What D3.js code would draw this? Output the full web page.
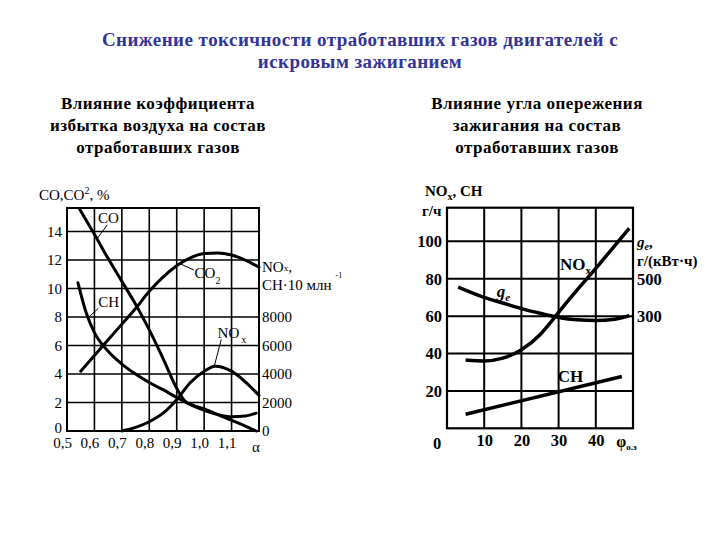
<!DOCTYPE html>
<html><head><meta charset="utf-8">
<script src="https://cdn.jsdelivr.net/npm/d3@7"></script>
<style>body{margin:0;background:#fff}</style>
</head><body><svg id="c" width="720" height="540"></svg>
<script>
// ---------- texts ----------
const titleLines = ["Снижение токсичности отработавших газов двигателей с", "искровым зажиганием"];
const leftSubtitle = ["Влияние коэффициента", "избытка воздуха на состав", "отработавших газов"];
const rightSubtitle = ["Влияние угла опережения", "зажигания на состав", "отработавших газов"];

// ---------- left chart data ----------
const alphaTicks = [0.5, 0.6, 0.7, 0.8, 0.9, 1.0, 1.1];
const alphaTickLabels = ["0,5", "0,6", "0,7", "0,8", "0,9", "1,0", "1,1"];
const alphaGrid = [0.6, 0.7, 0.8, 0.9, 1.0, 1.1];
const pctTicks = [0, 2, 4, 6, 8, 10, 12, 14];
const ppmTicks = [0, 2000, 4000, 6000, 8000];
// CO, % ; [alpha, value]
const coData = [[0.545,15.6],[0.6,13.8],[0.65,12.1],[0.7,10.5],[0.75,8.9],[0.8,7.1],[0.85,5.1],[0.9,3.0],[0.93,2.1],[0.96,1.8],[1.0,1.55],[1.05,1.15],[1.1,0.75],[1.15,0.35],[1.19,0]];
// CO2, %
const co2Data = [[0.55,4.2],[0.6,5.3],[0.65,6.4],[0.7,7.5],[0.75,8.6],[0.8,9.8],[0.85,10.8],[0.9,11.6],[0.95,12.15],[1.0,12.45],[1.05,12.5],[1.1,12.35],[1.15,12.0],[1.2,11.5]];
// CH, млн^-1 (right axis)
const chData = [[0.54,10400],[0.57,8300],[0.6,6900],[0.65,5600],[0.7,4700],[0.75,4000],[0.8,3400],[0.85,2900],[0.9,2350],[0.95,1850],[1.0,1450],[1.05,1150],[1.1,1000],[1.15,1050],[1.19,1250]];
// NOx, млн^-1 (right axis)
const noxData = [[0.7,0],[0.75,250],[0.8,650],[0.85,1250],[0.9,2200],[0.95,3400],[1.0,4200],[1.04,4550],[1.1,4200],[1.15,3450],[1.2,2500]];

// ---------- right chart data ----------
const phiTicks = [10, 20, 30, 40];
const ghTicks = [20, 40, 60, 80, 100];
const geTicks = [300, 500];
// NOx, г/ч ; [phi, value]
const noxPhi = [[5,36.5],[10,36],[15,37.5],[20,42],[25,50],[28,57],[30,62],[35,74],[40,85.5],[45,97.5],[49,107]];
// ge, г/(кВт·ч)
const gePhi = [[3,455],[10,400],[15,370],[20,340],[25,315],[30,293],[35,280],[40,276],[45,283],[49,302]];
// CH, г/ч
const chPhi = [[5,7.5],[47,27.7]];

const svg = d3.select("#c");
const serif = "'Liberation Serif','Times New Roman',serif";

// ---------- titles ----------
svg.append("g").selectAll("text").data(titleLines).join("text")
  .attr("x", 360).attr("y", (d,i) => 46 + i*22)
  .attr("text-anchor", "middle").attr("font-family", serif).attr("font-weight", "bold")
  .attr("font-size", 19).attr("letter-spacing", 0.45).attr("fill", "#333399").text(d => d);
svg.append("g").selectAll("text").data(leftSubtitle).join("text")
  .attr("x", 158).attr("y", (d,i) => 109 + i*22)
  .attr("text-anchor", "middle").attr("font-family", serif).attr("font-weight", "bold")
  .attr("font-size", 17).attr("letter-spacing", 0.5).attr("fill", "#000").text(d => d);
svg.append("g").selectAll("text").data(rightSubtitle).join("text")
  .attr("x", 537).attr("y", (d,i) => 109 + i*22)
  .attr("text-anchor", "middle").attr("font-family", serif).attr("font-weight", "bold")
  .attr("font-size", 17).attr("letter-spacing", 0.5).attr("fill", "#000").text(d => d);

// ---------- left chart ----------
{
  const x = d3.scaleLinear().domain([0.5, 1.2]).range([67, 259]);
  const y = d3.scaleLinear().domain([0, 15.65]).range([431, 208]);
  const yr = d3.scaleLinear().domain([0, 15650]).range([431, 208]);
  const g = svg.append("g");
  // grid
  g.append("g").selectAll("line").data(pctTicks.slice(1)).join("line")
    .attr("x1", x(0.5)).attr("x2", x(1.2)).attr("y1", d => y(d)).attr("y2", d => y(d))
    .attr("stroke", "#000").attr("stroke-width", 1.6);
  g.append("g").selectAll("line").data(alphaGrid).join("line")
    .attr("y1", y(0)).attr("y2", y(15.65)).attr("x1", d => x(d)).attr("x2", d => x(d))
    .attr("stroke", "#000").attr("stroke-width", 1.6);
  g.append("rect").attr("x", x(0.5)).attr("y", y(15.65)).attr("width", x(1.2)-x(0.5)).attr("height", y(0)-y(15.65))
    .attr("fill", "none").attr("stroke", "#000").attr("stroke-width", 2);
  // axes
  const ax = d3.axisLeft(y).tickValues(pctTicks).tickSize(0).tickPadding(5);
  const ga = g.append("g").attr("transform", `translate(${x(0.5)},0)`).call(ax);
  const axr = d3.axisRight(yr).tickValues(ppmTicks).tickSize(0).tickPadding(3).tickFormat(d3.format("d"));
  const gr = g.append("g").attr("transform", `translate(${x(1.2)},0)`).call(axr);
  const axb = d3.axisBottom(x).tickValues(alphaTicks).tickSize(0).tickPadding(6)
    .tickFormat((d,i) => alphaTickLabels[i]);
  const gb = g.append("g").attr("transform", `translate(-5,${y(0)})`).call(axb);
  [ga, gr, gb].forEach(s => {
    s.select(".domain").remove();
    s.selectAll("text").attr("font-family", serif).attr("font-size", 15).attr("fill", "#000");
  });
  // lift the "0" label a little so it clears the x labels
  ga.selectAll(".tick").filter(d => d === 0).select("text").attr("dy", "0.1em");
  g.append("text").attr("x", x(1.2) - 3).attr("y", y(0) + 21).attr("font-family", serif)
    .attr("font-size", 15).attr("text-anchor", "middle").text("α");
  // axis titles
  const t1 = g.append("text").attr("x", 39).attr("y", 200).attr("font-family", serif).attr("font-size", 15);
  t1.append("tspan").text("CO,CO");
  t1.append("tspan").attr("dy", -6).attr("font-size", 10).text("2");
  t1.append("tspan").attr("dy", 6).text(", %");
  const t2 = g.append("text").attr("x", x(1.2) + 3).attr("y", 272).attr("font-family", serif).attr("font-size", 15);
  t2.append("tspan").text("NO");
  t2.append("tspan").attr("dy", -1).attr("font-size", 9).text("x");
  t2.append("tspan").attr("dy", 1).text(",");
  const t3 = g.append("text").attr("x", x(1.2) + 3).attr("y", 290).attr("font-family", serif).attr("font-size", 15);
  t3.append("tspan").text("CH·10 млн");
  t3.append("tspan").attr("dy", -12).attr("dx", 4).attr("font-size", 8).text("-1");
  // curves
  const line = d3.line().x(d => x(d[0])).y(d => y(d[1])).curve(d3.curveMonotoneX);
  const liner = d3.line().x(d => x(d[0])).y(d => yr(d[1])).curve(d3.curveMonotoneX);
  const cs = g.append("g").attr("fill", "none").attr("stroke", "#000").attr("stroke-width", 3).attr("stroke-linecap", "round");
  cs.append("path").attr("d", line(coData));
  cs.append("path").attr("d", line(co2Data));
  cs.append("path").attr("d", liner(chData));
  cs.append("path").attr("d", liner(noxData));
  // leaders
  const leaders = [
    [[0.6466,14.46],[0.608,13.45]],
    [[0.614,8.61],[0.581,8.02]],
    [[0.911,11.75],[0.962,11.3]],
    [[1.0625,6.43],[1.038,4.63]]
  ];
  g.append("g").selectAll("line").data(leaders).join("line")
    .attr("x1", d => x(d[0][0])).attr("y1", d => y(d[0][1]))
    .attr("x2", d => x(d[1][0])).attr("y2", d => y(d[1][1]))
    .attr("stroke", "#000").attr("stroke-width", 1);
  const lab = (ax_, ay_, txt, sub) => {
    const t = g.append("text").attr("x", x(ax_)).attr("y", y(ay_)).attr("font-family", serif).attr("font-size", 15);
    t.append("tspan").text(txt);
    if (sub) t.append("tspan").attr("dy", 6).attr("font-size", 10).text(sub);
    return t;
  };
  lab(0.613, 14.6, "CO");
  lab(0.614, 8.7, "CH");
  lab(0.965, 10.75, "CO", "2");
  lab(1.049, 6.53, "NO").append("tspan").attr("dy", 5).attr("dx", 2).attr("font-size", 10).text("x");
}

// ---------- right chart ----------
{
  const x = d3.scaleLinear().domain([0, 50]).range([447, 633]);
  const y = d3.scaleLinear().domain([0, 118]).range([428.3, 207.7]);
  const yg = d3.scaleLinear().domain([-300, 880]).range([428.3, 207.7]);
  const g = svg.append("g");
  g.append("g").selectAll("line").data(ghTicks).join("line")
    .attr("x1", x(0)).attr("x2", x(50)).attr("y1", d => y(d)).attr("y2", d => y(d))
    .attr("stroke", "#000").attr("stroke-width", 2);
  g.append("g").selectAll("line").data(phiTicks).join("line")
    .attr("y1", y(0)).attr("y2", y(118)).attr("x1", d => x(d)).attr("x2", d => x(d))
    .attr("stroke", "#000").attr("stroke-width", 2);
  g.append("rect").attr("x", x(0)).attr("y", y(118)).attr("width", x(50)-x(0)).attr("height", y(0)-y(118))
    .attr("fill", "none").attr("stroke", "#000").attr("stroke-width", 2.2);
  const ax = d3.axisLeft(y).tickValues(ghTicks).tickSize(0).tickPadding(5);
  const ga = g.append("g").attr("transform", `translate(${x(0)},0)`).call(ax);
  const axr = d3.axisRight(yg).tickValues(geTicks).tickSize(0).tickPadding(4);
  const gr = g.append("g").attr("transform", `translate(${x(50)},0)`).call(axr);
  const axb = d3.axisBottom(x).tickValues(phiTicks).tickSize(0).tickPadding(6);
  const gb = g.append("g").attr("transform", `translate(0,${y(0)})`).call(axb);
  [ga, gr, gb].forEach(s => {
    s.select(".domain").remove();
    s.selectAll("text").attr("font-family", serif).attr("font-weight", "bold").attr("font-size", 16.5).attr("fill", "#000");
  });
  g.append("text").attr("x", x(0) - 10).attr("y", y(0) + 21).attr("text-anchor", "middle")
    .attr("font-family", serif).attr("font-weight", "bold").attr("font-size", 16.5).text("0");
  const phi = g.append("text").attr("x", x(45.5)).attr("y", y(0) + 19).attr("font-family", serif).attr("font-weight", "bold").attr("font-size", 16);
  phi.append("tspan").text("φ");
  phi.append("tspan").attr("dy", 3).attr("font-size", 9).text("о.з");
  // axis titles
  const t1 = g.append("text").attr("x", 425).attr("y", 196).attr("font-family", serif).attr("font-weight", "bold").attr("font-size", 15);
  t1.append("tspan").text("NO");
  t1.append("tspan").attr("dy", 4).attr("font-size", 10).text("x");
  t1.append("tspan").attr("dy", -4).text(", CH");
  g.append("text").attr("x", 422).attr("y", 216).attr("font-family", serif).attr("font-weight", "bold").attr("font-size", 15).text("г/ч");
  const t2 = g.append("text").attr("x", x(50) + 4).attr("y", 247).attr("font-family", serif).attr("font-weight", "bold").attr("font-size", 15);
  t2.append("tspan").attr("font-style", "italic").text("g");
  t2.append("tspan").attr("dy", 3).attr("font-size", 10).attr("font-style", "italic").text("e");
  t2.append("tspan").attr("dy", -3).text(",");
  g.append("text").attr("x", x(50) + 4).attr("y", 266).attr("font-family", serif).attr("font-weight", "bold").attr("font-size", 15).text("г/(кВт·ч)");
  // curves
  const line = d3.line().x(d => x(d[0])).y(d => y(d[1])).curve(d3.curveMonotoneX);
  const lineg = d3.line().x(d => x(d[0])).y(d => yg(d[1])).curve(d3.curveMonotoneX);
  const cs = g.append("g").attr("fill", "none").attr("stroke", "#000").attr("stroke-width", 3.5);
  cs.append("path").attr("d", line(noxPhi));
  cs.append("path").attr("d", lineg(gePhi));
  cs.append("path").attr("d", line(chPhi));
  // labels
  const l1 = g.append("text").attr("x", x(30.4)).attr("y", y(84.7)).attr("font-family", serif).attr("font-weight", "bold").attr("font-size", 17);
  l1.append("tspan").text("NO");
  l1.append("tspan").attr("dy", 4).attr("font-size", 11).text("x");
  const l2 = g.append("text").attr("x", x(13.4)).attr("y", y(70.3)).attr("font-family", serif).attr("font-weight", "bold").attr("font-size", 17);
  l2.append("tspan").attr("font-style", "italic").text("g");
  l2.append("tspan").attr("dy", 4).attr("font-size", 11).attr("font-style", "italic").text("e");
  g.append("text").attr("x", x(29.8)).attr("y", y(24.8)).attr("font-family", serif).attr("font-weight", "bold").attr("font-size", 17).text("CH");
}
</script>
</body></html>
